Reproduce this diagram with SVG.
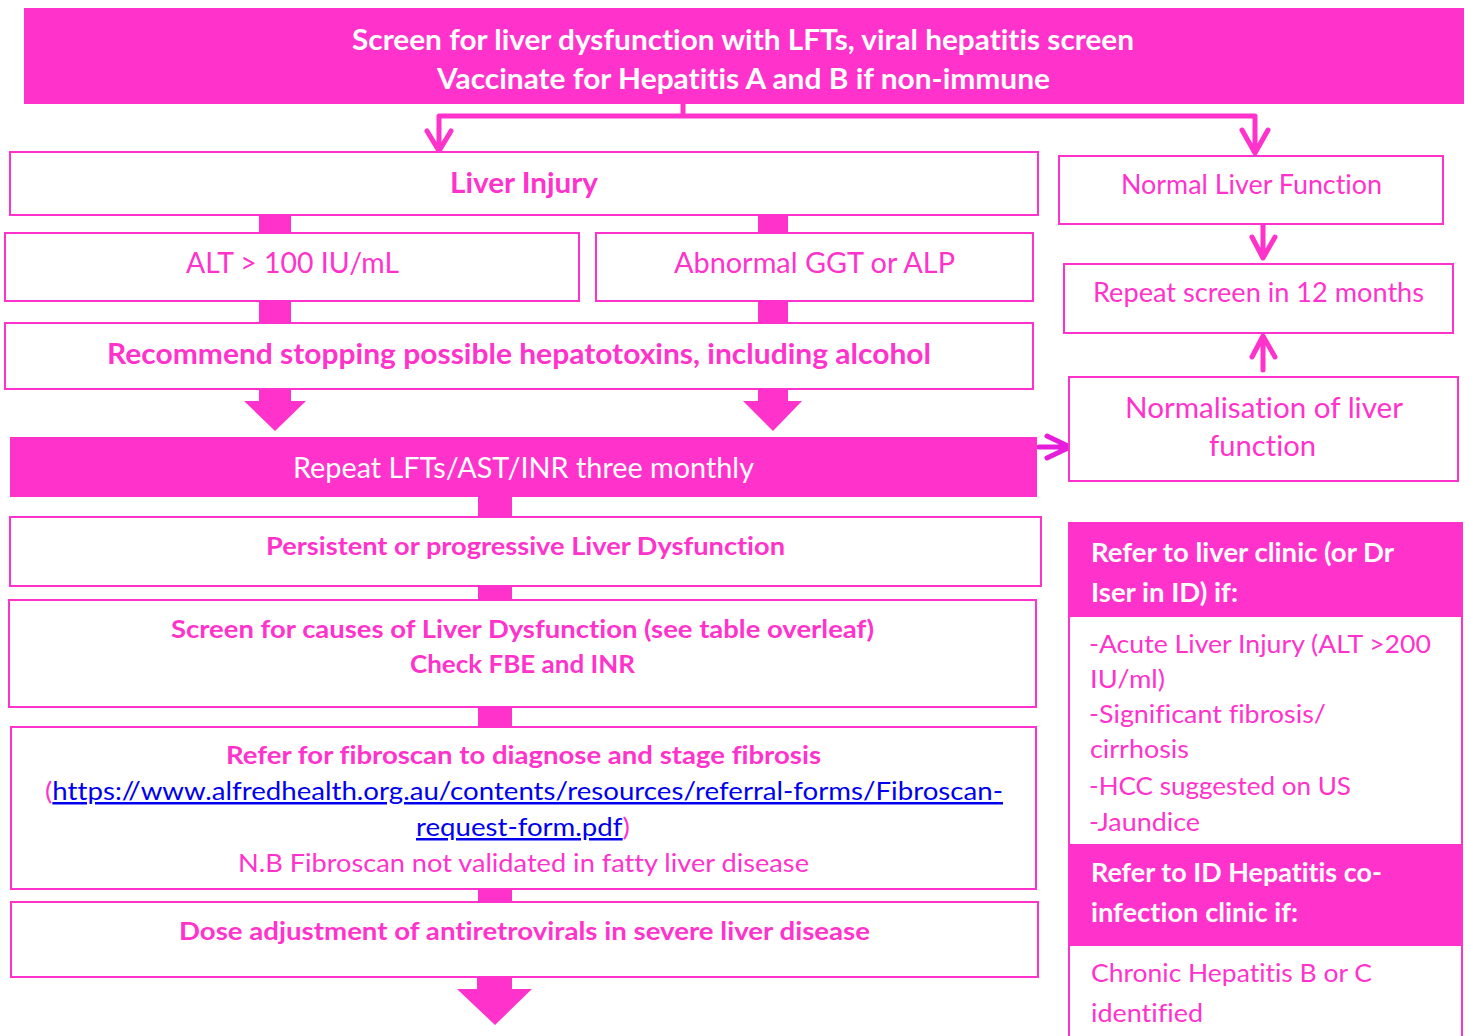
<svg xmlns="http://www.w3.org/2000/svg" width="1470" height="1036" viewBox="0 0 1470 1036">
<style>
.box{fill:#fff;stroke:#ff33cc;stroke-width:2}
.fill{fill:#ff33cc;stroke:#ff33cc;stroke-width:2}
.t{font-family:Lato,"Liberation Sans",sans-serif;fill:#ff33cc;text-anchor:middle;font-variant-ligatures:none;font-feature-settings:"liga" 0,"clig" 0,"dlig" 0;letter-spacing:0.01px}
.w{fill:#fff}
.b{font-weight:bold}
.l{text-anchor:start}
.ln{fill:none;stroke:#ff33cc;stroke-width:5;stroke-linecap:round;stroke-linejoin:round}
.bar{fill:#ff33cc}
</style>
<rect width="1470" height="1036" fill="#fff"/>
<g id="connectors">
<path class="ln" d="M683,104 V116 M439,150 V116 H1255 V152 M427,131 L439,151 L451,131 M1242,130 L1255,153 L1268,130"/>
<path class="ln" d="M1263,225 V257 M1252,237 L1263,258 L1275,237"/>
<path class="ln" d="M1263,370 V337 M1252,357 L1263,336 L1275,357"/>
<path class="ln" style="stroke:#e61edc" d="M1039,447 H1069 M1047,436 L1070,447 L1047,458"/>
<rect class="bar" x="259" y="215" width="32" height="18"/>
<rect class="bar" x="758" y="215" width="30" height="18"/>
<rect class="bar" x="259" y="301" width="32" height="22"/>
<rect class="bar" x="758" y="301" width="30" height="22"/>
<polygon class="bar" points="259,389 291,389 291,401 306,401 275,431 244,401 259,401"/>
<polygon class="bar" points="758,389 788,389 788,401 802,401 773,431 743,401 758,401"/>
<rect class="bar" x="478" y="497" width="34" height="20"/>
<rect class="bar" x="478" y="586" width="34" height="14"/>
<rect class="bar" x="478" y="707" width="34" height="20"/>
<rect class="bar" x="478" y="889" width="34" height="13"/>
<polygon class="bar" points="477,977 512,977 512,989 532,989 495,1025 457,989 477,989"/>
</g>
<g id="top">
<rect class="fill" x="25" y="9" width="1438" height="94"/>
<text class="t w b" x="743" y="50" font-size="29" textLength="782" lengthAdjust="spacingAndGlyphs">Screen for liver dysfunction with LFTs, viral hepatitis screen</text>
<text class="t w b" x="743.5" y="89" font-size="29" textLength="613" lengthAdjust="spacingAndGlyphs">Vaccinate for Hepatitis A and B if non-immune</text>
</g>
<g id="liver-injury">
<rect class="box" x="10" y="152" width="1028" height="63"/>
<text class="t b" x="524" y="193" font-size="28" textLength="148" lengthAdjust="spacingAndGlyphs">Liver Injury</text>
</g>
<g id="alt">
<rect class="box" x="5" y="233" width="574" height="68"/>
<text class="t" x="292.5" y="273" font-size="28" textLength="213" lengthAdjust="spacingAndGlyphs">ALT &gt; 100 IU/mL</text>
</g>
<g id="ggt">
<rect class="box" x="596" y="233" width="437" height="68"/>
<text class="t" x="814.5" y="273" font-size="28" textLength="281" lengthAdjust="spacingAndGlyphs">Abnormal GGT or ALP</text>
</g>
<g id="recommend">
<rect class="box" x="5" y="323" width="1028" height="66"/>
<text class="t b" x="519" y="364" font-size="28" textLength="824" lengthAdjust="spacingAndGlyphs">Recommend stopping possible hepatotoxins, including alcohol</text>
</g>
<g id="repeat-lfts">
<rect class="fill" x="11" y="438" width="1025" height="58"/>
<text class="t w" x="523.5" y="478" font-size="28" textLength="461" lengthAdjust="spacingAndGlyphs">Repeat LFTs/AST/INR three monthly</text>
</g>
<g id="normal">
<rect class="box" x="1059" y="156" width="384" height="68"/>
<text class="t" x="1251.5" y="194" font-size="26" textLength="261" lengthAdjust="spacingAndGlyphs">Normal Liver Function</text>
</g>
<g id="repeat-screen">
<rect class="box" x="1064" y="264" width="389" height="69"/>
<text class="t" x="1258.5" y="302" font-size="26" textLength="331" lengthAdjust="spacingAndGlyphs">Repeat screen in 12 months</text>
</g>
<g id="normalisation">
<rect class="box" x="1069" y="377" width="389" height="104"/>
<text class="t" x="1264" y="418" font-size="28" textLength="278" lengthAdjust="spacingAndGlyphs">Normalisation of liver</text>
<text class="t" x="1262.5" y="456" font-size="28" textLength="107" lengthAdjust="spacingAndGlyphs">function</text>
</g>
<g id="persistent">
<rect class="box" x="10" y="517" width="1031" height="69"/>
<text class="t b" x="525.5" y="555" font-size="25" textLength="519" lengthAdjust="spacingAndGlyphs">Persistent or progressive Liver Dysfunction</text>
</g>
<g id="screen-causes">
<rect class="box" x="9" y="600" width="1027" height="107"/>
<text class="t b" x="522.5" y="638" font-size="25" textLength="703" lengthAdjust="spacingAndGlyphs">Screen for causes of Liver Dysfunction (see table overleaf)</text>
<text class="t b" x="522.5" y="673" font-size="25" textLength="225" lengthAdjust="spacingAndGlyphs">Check FBE and INR</text>
</g>
<g id="fibroscan">
<rect class="box" x="11" y="727" width="1025" height="162"/>
<text class="t b" x="523.5" y="764" font-size="25" textLength="595" lengthAdjust="spacingAndGlyphs">Refer for fibroscan to diagnose and stage fibrosis</text>
<text class="t l" x="45" y="800" font-size="25" textLength="958" lengthAdjust="spacingAndGlyphs">(<tspan fill="#0000ee" text-decoration="underline">https://www.alfredhealth.org.au/contents/resources/referral-forms/Fibroscan-</tspan></text>
<text class="t l" x="416" y="836" font-size="25" textLength="214" lengthAdjust="spacingAndGlyphs"><tspan fill="#0000ee" text-decoration="underline">request-form.pdf</tspan>)</text>
<text class="t" x="523.5" y="872" font-size="25" textLength="571" lengthAdjust="spacingAndGlyphs">N.B Fibroscan not validated in fatty liver disease</text>
</g>
<g id="dose">
<rect class="box" x="11" y="902" width="1027" height="75"/>
<text class="t b" x="524.5" y="940" font-size="25" textLength="691" lengthAdjust="spacingAndGlyphs">Dose adjustment of antiretrovirals in severe liver disease</text>
</g>
<g id="refer-panel">
<rect class="box" x="1069" y="523" width="393" height="520"/>
<rect class="fill" x="1069" y="523" width="393" height="93"/>
<rect class="fill" x="1069" y="845" width="393" height="100"/>
<text class="t w b l" x="1091" y="562" font-size="26" textLength="303" lengthAdjust="spacingAndGlyphs">Refer to liver clinic (or Dr</text>
<text class="t w b l" x="1091" y="602" font-size="26" textLength="147" lengthAdjust="spacingAndGlyphs">Iser in ID) if:</text>
<text class="t l" x="1089" y="653" font-size="25" textLength="342" lengthAdjust="spacingAndGlyphs">-Acute Liver Injury (ALT &gt;200</text>
<text class="t l" x="1090" y="688" font-size="25" textLength="75" lengthAdjust="spacingAndGlyphs">IU/ml)</text>
<text class="t l" x="1089" y="723" font-size="25" textLength="237" lengthAdjust="spacingAndGlyphs">-Significant fibrosis/</text>
<text class="t l" x="1090" y="758" font-size="25" textLength="99" lengthAdjust="spacingAndGlyphs">cirrhosis</text>
<text class="t l" x="1089" y="795" font-size="25" textLength="262" lengthAdjust="spacingAndGlyphs">-HCC suggested on US</text>
<text class="t l" x="1089" y="831" font-size="25" textLength="111" lengthAdjust="spacingAndGlyphs">-Jaundice</text>
<text class="t w b l" x="1091" y="882" font-size="26" textLength="291" lengthAdjust="spacingAndGlyphs">Refer to ID Hepatitis co-</text>
<text class="t w b l" x="1091" y="922" font-size="26" textLength="207" lengthAdjust="spacingAndGlyphs">infection clinic if:</text>
<text class="t l" x="1091" y="982" font-size="25" textLength="281" lengthAdjust="spacingAndGlyphs">Chronic Hepatitis B or C</text>
<text class="t l" x="1091" y="1022" font-size="25" textLength="112" lengthAdjust="spacingAndGlyphs">identified</text>
</g>
</svg>
